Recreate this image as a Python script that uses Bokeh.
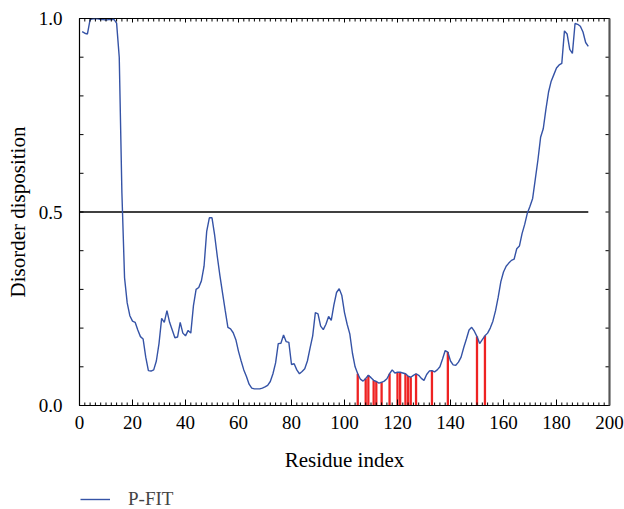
import math
from bokeh.plotting import figure
from bokeh.layouts import column
from bokeh.models import (LinearAxis, FixedTicker, Legend, LegendItem, Range1d)
from bokeh.embed import file_html
from bokeh.resources import INLINE

residues = list(range(1, 193))
disorder = [
    0.966, 0.962, 0.960, 0.997, 0.999, 1.000, 0.999, 0.997, 0.997, 0.996,
    0.997, 0.997, 0.998, 0.988, 0.900, 0.550, 0.330, 0.265, 0.232, 0.218,
    0.215, 0.195, 0.178, 0.172, 0.125, 0.090, 0.089, 0.092, 0.115, 0.160,
    0.225, 0.215, 0.245, 0.215, 0.195, 0.175, 0.177, 0.215, 0.187, 0.180,
    0.194, 0.187, 0.258, 0.300, 0.305, 0.322, 0.360, 0.450, 0.485, 0.485,
    0.440, 0.385, 0.335, 0.290, 0.245, 0.202, 0.198, 0.188, 0.170, 0.140,
    0.115, 0.092, 0.075, 0.055, 0.045, 0.043, 0.043, 0.043, 0.045, 0.048,
    0.052, 0.062, 0.082, 0.110, 0.160, 0.161, 0.182, 0.165, 0.163, 0.106,
    0.108, 0.092, 0.082, 0.088, 0.095, 0.115, 0.148, 0.180, 0.240, 0.237,
    0.205, 0.196, 0.210, 0.230, 0.220, 0.260, 0.292, 0.302, 0.284, 0.240,
    0.210, 0.185, 0.135, 0.100, 0.082, 0.068, 0.063, 0.070, 0.078, 0.072,
    0.065, 0.062, 0.058, 0.060, 0.063, 0.069, 0.082, 0.092, 0.084, 0.086,
    0.086, 0.084, 0.082, 0.076, 0.073, 0.078, 0.082, 0.078, 0.070, 0.065,
    0.080, 0.089, 0.090, 0.087, 0.092, 0.100, 0.120, 0.142, 0.138, 0.115,
    0.105, 0.104, 0.112, 0.125, 0.150, 0.172, 0.195, 0.202, 0.192, 0.178,
    0.160, 0.170, 0.180, 0.187, 0.200, 0.218, 0.245, 0.280, 0.320, 0.345,
    0.360, 0.368, 0.375, 0.378, 0.405, 0.412, 0.444, 0.468, 0.497, 0.515,
    0.535, 0.585, 0.635, 0.693, 0.715, 0.765, 0.810, 0.838, 0.855, 0.872,
    0.880, 0.884, 0.968, 0.960, 0.920, 0.910, 0.987, 0.985, 0.980, 0.965,
    0.938, 0.928,
]
binding_residues = [105, 108, 109, 111, 112, 114, 117, 120, 121, 123, 124,
                    125, 127, 133, 139, 150, 153]
threshold = 0.5
x_ticks = [0, 20, 40, 60, 80, 100, 120, 140, 160, 180, 200]
x_minor = list(range(0, 201, 2))
y_ticks = [0.0, 0.1, 0.2, 0.3, 0.4, 0.5, 0.6, 0.7, 0.8, 0.9, 1.0]
y_labels = {0.0: "0.0", 0.5: "0.5", 1.0: "1.0"}
series_name = "P-FIT"

FONT = "Liberation Serif"
BLUE = "#3553a6"
RED = "#ee2222"
X0, X1, Y0, Y1 = 0, 200, 0.0, 1.0

p = figure(frame_width=530, frame_height=387, output_backend="svg",
           toolbar_location=None, x_range=Range1d(X0, X1), y_range=Range1d(Y0, Y1),
           min_border_left=79, min_border_right=15, min_border_top=18,
           min_border_bottom=74, x_axis_label="Residue index",
           y_axis_label="Disorder disposition")
p.grid.visible = False
p.outline_line_color = "black"
p.outline_line_width = 1.2

# threshold line
p.line([0, residues[-1]], [threshold, threshold], line_color="black", line_width=1.3)

# binding residues (red bars)
tops = [disorder[r - 1] for r in binding_residues]
p.segment(x0=binding_residues, y0=[0] * len(binding_residues),
          x1=binding_residues, y1=tops, line_color=RED, line_width=2.3)

p.line(residues, disorder, line_color=BLUE, line_width=1.4)

# inward tick marks drawn as screen-length rays from the frame edges
minor_only = [t for t in x_minor if t not in x_ticks]
tick_kw = dict(length_units="screen", line_color="black", line_width=1)
p.ray(x=minor_only, y=[Y0] * len(minor_only), length=3, angle=math.pi / 2, **tick_kw)
p.ray(x=x_ticks, y=[Y0] * len(x_ticks), length=6, angle=math.pi / 2, **tick_kw)
p.ray(x=minor_only, y=[Y1] * len(minor_only), length=3, angle=-math.pi / 2, **tick_kw)
p.ray(x=x_ticks, y=[Y1] * len(x_ticks), length=4, angle=-math.pi / 2, **tick_kw)
p.ray(x=[X0] * len(y_ticks), y=y_ticks, length=4, angle=0, **tick_kw)
p.ray(x=[X1] * len(y_ticks), y=y_ticks, length=4, angle=math.pi, **tick_kw)

p.xaxis[0].ticker = FixedTicker(ticks=x_ticks)
p.yaxis[0].ticker = FixedTicker(ticks=y_ticks)
p.yaxis[0].major_label_overrides = {t: y_labels.get(t, "") for t in y_ticks}

def style(ax):
    ax.axis_line_color = "black"
    ax.major_tick_in = 0
    ax.major_tick_out = 0
    ax.minor_tick_in = 0
    ax.minor_tick_out = 0
    ax.major_tick_line_color = None
    ax.minor_tick_line_color = None
    ax.major_label_text_font = FONT
    ax.major_label_text_font_size = "19px"
    ax.major_label_text_color = "black"
    ax.axis_label_text_font = FONT
    ax.axis_label_text_font_size = "21px"
    ax.axis_label_text_font_style = "normal"
    ax.axis_label_text_color = "black"

style(p.xaxis[0])
style(p.yaxis[0])
p.xaxis[0].major_label_standoff = 10
p.yaxis[0].major_label_standoff = 17
p.xaxis[0].axis_label_standoff = 16
p.yaxis[0].axis_label_standoff = 6

right_ax = LinearAxis(ticker=FixedTicker(ticks=y_ticks),
                      major_label_overrides={t: "" for t in y_ticks},
                      major_label_standoff=0)
style(right_ax)
right_ax.axis_line_width = 2
right_ax.axis_line_color = "#555555"
p.add_layout(right_ax, "right")

# legend strip below the chart
leg = figure(width=624, height=30, output_backend="svg", toolbar_location=None,
             x_axis_location=None, y_axis_location=None, min_border=0,
             x_range=Range1d(0, 1), y_range=Range1d(0, 1))
leg.grid.visible = False
leg.outline_line_color = None
key = leg.line(x=residues[:1], y=disorder[:1], line_color=BLUE, line_width=1.4)
legend = Legend(items=[LegendItem(label=series_name, renderers=[key])],
                location=(1, -1), padding=0, margin=0, spacing=0,
                glyph_width=30, glyph_height=12, label_height=12,
                label_standoff=18,
                label_text_font=FONT, label_text_font_size="19px",
                label_text_baseline="middle",
                border_line_alpha=0, background_fill_alpha=0)
leg.add_layout(legend, "center")

layout = column(p, leg, spacing=0)
open("out.html", "w").write(file_html(layout, INLINE))
